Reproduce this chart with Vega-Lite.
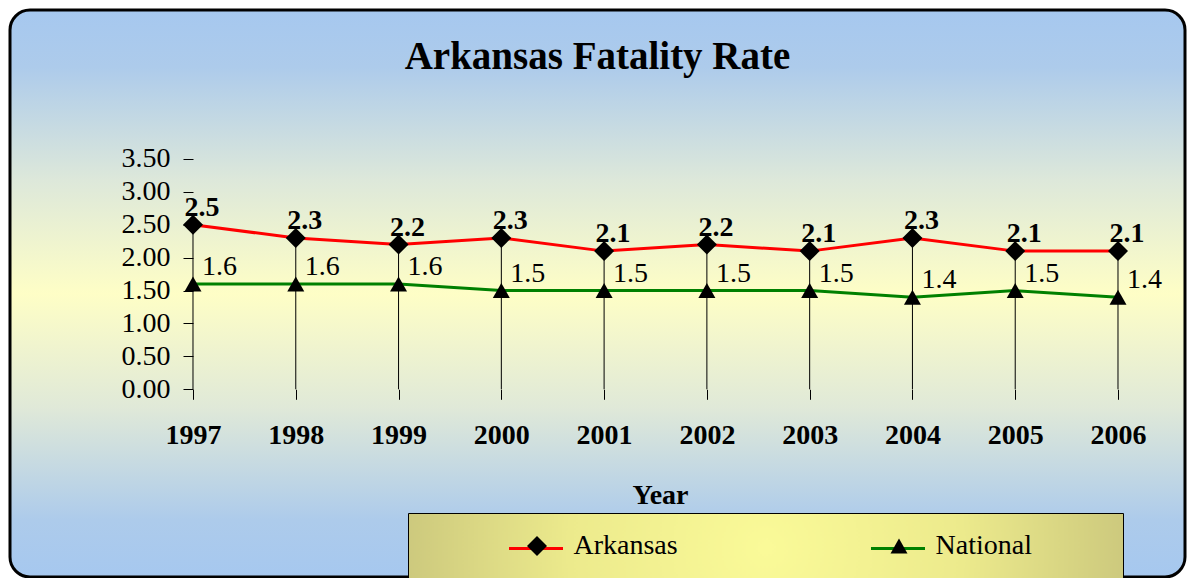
{
  "$schema": "https://vega.github.io/schema/vega-lite/v6.json",
  "width": 1175,
  "height": 567,
  "autosize": {"type": "none"},
  "padding": {"left": 10, "top": 10, "right": 2, "bottom": 1},
  "background": "white",
  "title": {
    "text": "Arkansas Fatality Rate",
    "font": "Liberation Serif",
    "fontSize": 39,
    "fontWeight": "bold",
    "color": "black",
    "anchor": "middle",
    "frame": "group",
    "orient": "top",
    "baseline": "alphabetic",
    "offset": -97.5
  },
  "data": {
    "values": [
      {"Year": 1997, "Series": "Arkansas", "Rate": 2.5},
      {"Year": 1998, "Series": "Arkansas", "Rate": 2.3},
      {"Year": 1999, "Series": "Arkansas", "Rate": 2.2},
      {"Year": 2000, "Series": "Arkansas", "Rate": 2.3},
      {"Year": 2001, "Series": "Arkansas", "Rate": 2.1},
      {"Year": 2002, "Series": "Arkansas", "Rate": 2.2},
      {"Year": 2003, "Series": "Arkansas", "Rate": 2.1},
      {"Year": 2004, "Series": "Arkansas", "Rate": 2.3},
      {"Year": 2005, "Series": "Arkansas", "Rate": 2.1},
      {"Year": 2006, "Series": "Arkansas", "Rate": 2.1},
      {"Year": 1997, "Series": "National", "Rate": 1.6},
      {"Year": 1998, "Series": "National", "Rate": 1.6},
      {"Year": 1999, "Series": "National", "Rate": 1.6},
      {"Year": 2000, "Series": "National", "Rate": 1.5},
      {"Year": 2001, "Series": "National", "Rate": 1.5},
      {"Year": 2002, "Series": "National", "Rate": 1.5},
      {"Year": 2003, "Series": "National", "Rate": 1.5},
      {"Year": 2004, "Series": "National", "Rate": 1.4},
      {"Year": 2005, "Series": "National", "Rate": 1.5},
      {"Year": 2006, "Series": "National", "Rate": 1.4}
    ]
  },
  "encoding": {
    "x": {
      "field": "Year",
      "type": "quantitative",
      "scale": {"domain": [1995.2195, 2006.6519], "nice": false, "zero": false},
      "axis": {
        "orient": "bottom",
        "offset": -187.7,
        "values": [1997, 1998, 1999, 2000, 2001, 2002, 2003, 2004, 2005, 2006],
        "format": "d",
        "domain": false,
        "grid": false,
        "ticks": true,
        "tickSize": 10,
        "tickColor": "black",
        "tickWidth": 1,
        "labelFont": "Liberation Serif",
        "labelFontSize": 28,
        "labelFontWeight": "bold",
        "labelColor": "black",
        "labelPadding": 22,
        "labelFlush": false,
        "labelOverlap": false,
        "title": "Year",
        "titleFont": "Liberation Serif",
        "titleFontSize": 28,
        "titleFontWeight": "bold",
        "titleColor": "black",
        "titleX": 650,
        "titleY": 114,
        "titleBaseline": "alphabetic",
        "titleAlign": "center"
      }
    },
    "y": {
      "field": "Rate",
      "type": "quantitative",
      "scale": {"domain": [-2.8526, 5.7644], "nice": false, "zero": false},
      "axis": {
        "orient": "left",
        "offset": -183,
        "values": [0, 0.5, 1, 1.5, 2, 2.5, 3, 3.5],
        "format": ".2f",
        "domain": false,
        "grid": false,
        "tickSize": 10,
        "tickColor": "black",
        "tickWidth": 1,
        "labelFont": "Liberation Serif",
        "labelFontSize": 28,
        "labelColor": "black",
        "labelPadding": 13,
        "labelFlush": false,
        "labelOverlap": false,
        "title": null
      }
    }
  },
  "layer": [
    {
      "data": {"values": [{}]},
      "mark": {"type": "rule", "color": "black", "strokeWidth": 1},
      "encoding": {
        "x": {"datum": 1997, "type": "quantitative"},
        "y": {"datum": 0, "type": "quantitative"},
        "y2": {"datum": 3.5}
      }
    },
    {
      "data": {"values": [{}]},
      "mark": {"type": "rule", "color": "black", "strokeWidth": 1},
      "encoding": {
        "x": {"datum": 1997, "type": "quantitative"},
        "x2": {"datum": 2006},
        "y": {"datum": 0, "type": "quantitative"}
      }
    },
    {
      "transform": [{"filter": "datum.Series === 'Arkansas'"}],
      "mark": {"type": "rule", "color": "black", "strokeWidth": 1},
      "encoding": {
        "y2": {"datum": 0}
      }
    },
    {
      "mark": {"type": "line", "strokeWidth": 3},
      "encoding": {
        "color": {
          "field": "Series",
          "type": "nominal",
          "scale": {"domain": ["Arkansas", "National"], "range": ["#ff0000", "#008000"]},
          "legend": {
            "orient": "none",
            "legendX": 398,
            "legendY": 503,
            "direction": "horizontal",
            "columns": 2,
            "columnPadding": 119,
            "symbolType": "stroke",
            "symbolSize": 2916,
            "symbolStrokeWidth": 3,
            "labelFont": "Liberation Serif",
            "labelFontSize": 53.7,
            "labelOpacity": 0,
            "labelOffset": 43,
            "padding": 6.5,
            "fillColor": {"value": {
              "gradient": "radial",
              "x1": 0.5, "y1": 0.5, "r1": 0,
              "x2": 0.5, "y2": 0.5, "r2": 0.55,
              "stops": [
                {"offset": 0, "color": "#fafa98"},
                {"offset": 0.5, "color": "#ecea8c"},
                {"offset": 1, "color": "#c6c27a"}
              ]
            }},
            "strokeColor": "black",
            "title": ".",
            "titleOrient": "left",
            "titleFontSize": 10,
            "titleOpacity": 0,
            "titlePadding": 90
          }
        }
      }
    },
    {
      "mark": {"type": "point", "filled": true, "color": "black", "size": 400, "opacity": 1, "strokeWidth": 0},
      "encoding": {
        "shape": {
          "field": "Series",
          "type": "nominal",
          "scale": {"range": ["M-1,0L0,-1L1,0L0,1Z", "M0,-0.75L0.85,0.75L-0.85,0.75Z"]},
          "legend": {
            "orient": "none",
            "legendX": 513,
            "legendY": 522,
            "direction": "horizontal",
            "columns": 2,
            "columnPadding": 207,
            "symbolSize": 400,
            "symbolFillColor": "black",
            "symbolStrokeWidth": 0,
            "symbolOpacity": 1,
            "labelFont": "Liberation Serif",
            "labelFontSize": 28,
            "labelColor": "black",
            "labelOffset": 22.5,
            "padding": 0,
            "title": null
          }
        }
      }
    },
    {
      "transform": [{"filter": "datum.Series === 'Arkansas'"}],
      "mark": {"type": "text", "font": "Liberation Serif", "fontSize": 28, "fontWeight": "bold", "color": "black", "align": "center", "baseline": "alphabetic", "dx": 9, "dy": -9},
      "encoding": {
        "text": {"field": "Rate", "type": "quantitative", "format": ".1f"}
      }
    },
    {
      "transform": [{"filter": "datum.Series === 'National'"}],
      "mark": {"type": "text", "font": "Liberation Serif", "fontSize": 28, "color": "black", "align": "left", "baseline": "alphabetic", "dx": 9, "dy": -9},
      "encoding": {
        "text": {"field": "Rate", "type": "quantitative", "format": ".1f"}
      }
    }
  ],
  "config": {
    "font": "Liberation Serif",
    "legend": {"labelFont": "Liberation Serif"},
    "view": {
      "fill": {
        "gradient": "linear",
        "x1": 0, "y1": 0, "x2": 0, "y2": 1,
        "stops": [
          {"offset": 0, "color": "#a6c8ef"},
          {"offset": 0.1, "color": "#adcbeb"},
          {"offset": 0.3, "color": "#dde8da"},
          {"offset": 0.5, "color": "#fefec6"},
          {"offset": 0.7, "color": "#e0e9d8"},
          {"offset": 0.9, "color": "#adcbeb"},
          {"offset": 1, "color": "#a6c8ef"}
        ]
      },
      "stroke": "black",
      "strokeWidth": 3,
      "cornerRadius": 20
    }
  }
}
